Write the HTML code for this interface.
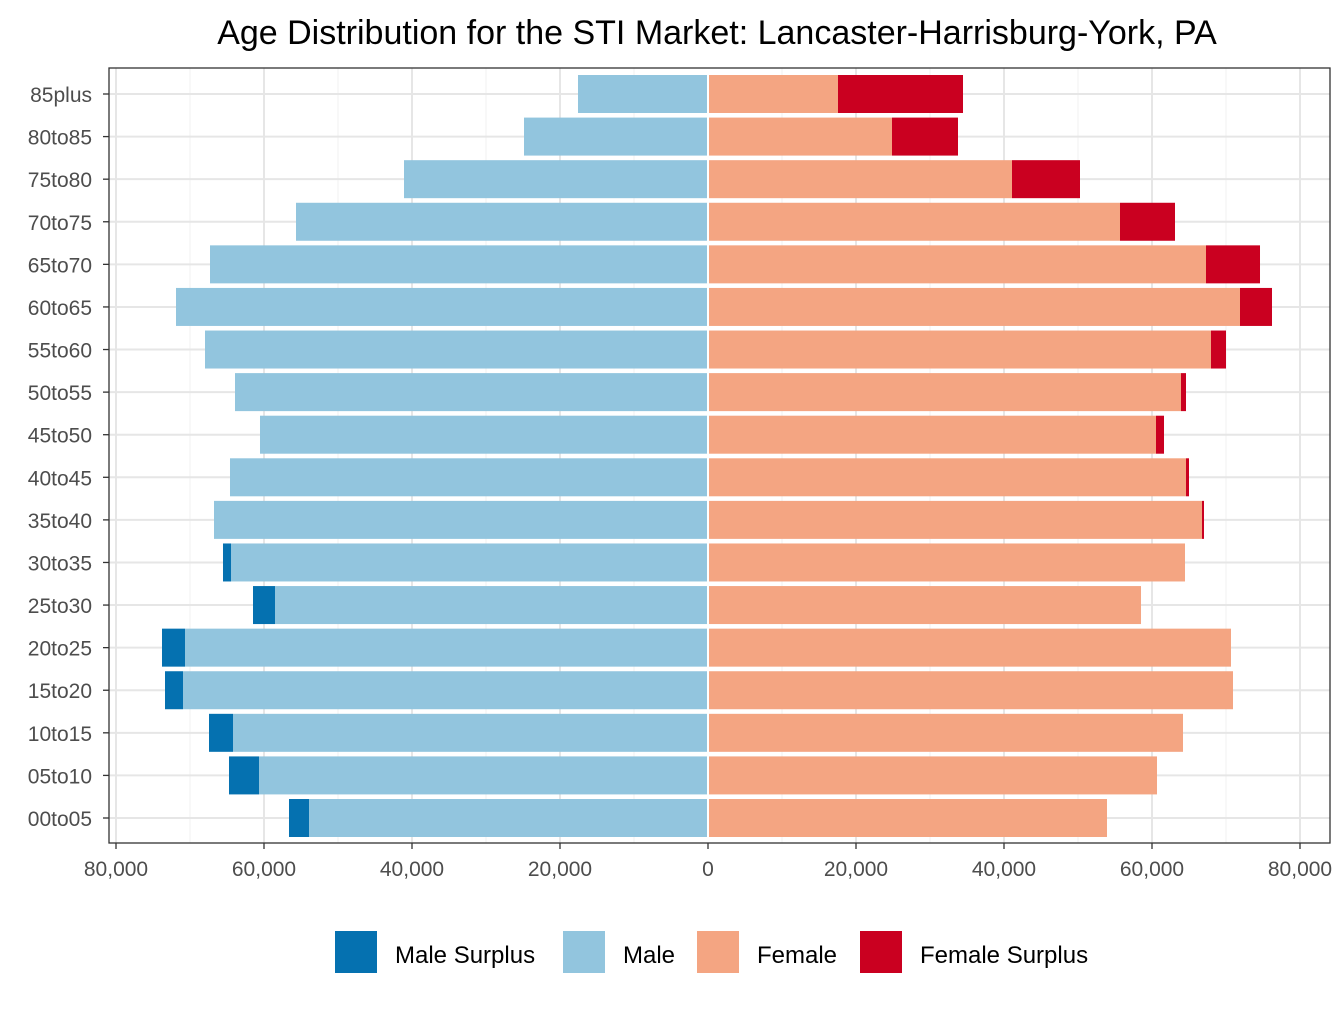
<!DOCTYPE html>
<html><head><meta charset="utf-8">
<style>
body{margin:0;background:#fff;font-family:"Liberation Sans",Arial,sans-serif;}
svg text{font-family:"Liberation Sans",Arial,sans-serif;}
</style></head>
<body>
<svg id="chart" width="1344" height="1008" xmlns="http://www.w3.org/2000/svg">
<rect width="1344" height="1008" fill="#fff"/>
<text x="717" y="44" font-size="34" text-anchor="middle" fill="#000">Age Distribution for the STI Market: Lancaster-Harrisburg-York, PA</text>
<g id="grid"></g>
<g id="bars"></g>
<rect x="109" y="68" width="1221" height="775" fill="none" stroke="#333" stroke-width="1.3"/>
<g id="axes"></g>
<g id="legend"></g>
</svg>
<script>
const categories=["00to05","05to10","10to15","15to20","20to25","25to30","30to35","35to40","40to45","45to50","50to55","55to60","60to65","65to70","70to75","75to80","80to85","85plus"];
const maleValues=[56622,64730,67432,73378,73784,61486,65541,66757,64595,60541,63919,67973,71892,67297,55676,41081,24865,17568];
const femaleValues=[53919,60676,64189,70946,70676,58514,64459,67027,65000,61622,64595,70000,76216,74595,63108,50270,33784,34459];
const tickValues=[-80000,-60000,-40000,-20000,0,20000,40000,60000,80000];
const tickLabels=["80,000","60,000","40,000","20,000","0","20,000","40,000","60,000","80,000"];
const NS="http://www.w3.org/2000/svg";
const x0=708, scale=592/80000;
const xs=v=>x0+v*scale;
const rowY=i=>818-i*(724/17);
const barH=38;
function mk(tag,attrs,parent){const e=document.createElementNS(NS,tag);for(const k in attrs)e.setAttribute(k,attrs[k]);parent.appendChild(e);return e;}
const grid=document.getElementById('grid'),bars=document.getElementById('bars'),axes=document.getElementById('axes'),legend=document.getElementById('legend');
mk('rect',{x:109,y:68,width:1221,height:775,fill:'#fff'},grid);
for(let k=0;k<tickValues.length-1;k++){const m=(tickValues[k]+tickValues[k+1])/2;
 const l=mk('line',{x1:xs(m),x2:xs(m),y1:68,y2:843,stroke:'#f0f0f0','stroke-width':1},grid);
 
 }
tickValues.forEach((v,k)=>{
 const l=mk('line',{x1:xs(v),x2:xs(v),y1:68,y2:843,stroke:'#e6e6e6','stroke-width':2},grid);
 
 
 const t=mk('line',{x1:xs(v),x2:xs(v),y1:843,y2:849,stroke:'#333','stroke-width':1.3},axes);
 
 
 const tx=mk('text',{x:xs(v),y:876,'font-size':21,'text-anchor':'middle',fill:'#4d4d4d'},axes);
 tx.textContent=tickLabels[k];
 
 
});
categories.forEach((c,i)=>{
 const y=rowY(i);
 const g=mk('line',{x1:109,x2:1330,y1:y,y2:y,stroke:'#e6e6e6','stroke-width':2},grid);
 
 
 const m=maleValues[i],f=femaleValues[i],base=Math.min(m,f);
 const r1=mk('rect',{x:xs(-base),y:y-barH/2,width:xs(0)-xs(-base),height:barH,fill:'#92c5de'},bars);
 
 
 const r2=mk('rect',{x:xs(0),y:y-barH/2,width:xs(base)-xs(0),height:barH,fill:'#f4a582'},bars);
 
 
 if(m>f){const r=mk('rect',{x:xs(-m),y:y-barH/2,width:xs(-f)-xs(-m),height:barH,fill:'#0571b0'},bars);
  
  }
 if(f>m){const r=mk('rect',{x:xs(m),y:y-barH/2,width:xs(f)-xs(m),height:barH,fill:'#ca0020'},bars);
  
  }
 const t=mk('line',{x1:103,x2:109,y1:y,y2:y,stroke:'#333','stroke-width':1.3},axes);
 
 
 const tx=mk('text',{x:92,y:y+8,'font-size':21,'text-anchor':'end',fill:'#4d4d4d'},axes);
 tx.textContent=c;
 
 
});
mk('line',{x1:708,x2:708,y1:68,y2:843,stroke:'#fff','stroke-width':2},bars);
const legItems=[["Male Surplus","#0571b0",335],["Male","#92c5de",563],["Female","#f4a582",697],["Female Surplus","#ca0020",860]];
legItems.forEach(it=>{
 const r=mk('rect',{x:it[2],y:931,width:42,height:42,fill:it[1]},legend);
 
 
 const t=mk('text',{x:it[2]+60,y:963,'font-size':24,fill:'#000'},legend);
 t.textContent=it[0];
 
 
});
</script>
</body></html>
